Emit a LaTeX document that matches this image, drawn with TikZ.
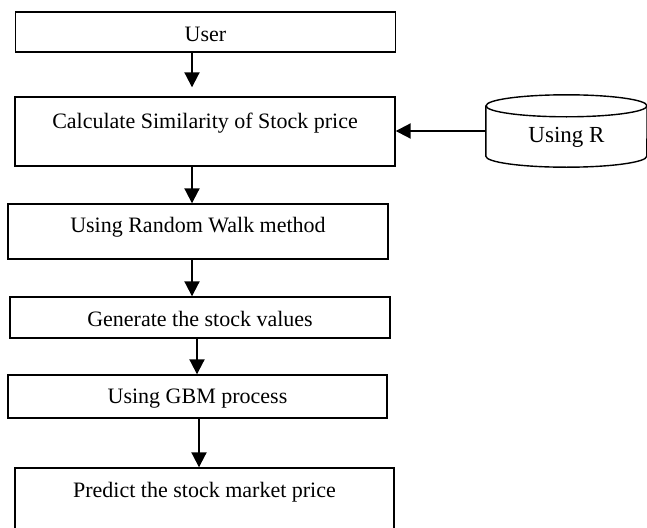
\documentclass[tikz,border=0pt]{standalone}
\usepackage{fontspec}
\setmainfont{Liberation Serif}
\usepackage{tikz}
\usetikzlibrary{arrows.meta}

\begin{document}
\begin{tikzpicture}[x=1pt,y=-1pt,
    every node/.style={font=\fontsize{22}{26}\selectfont,inner sep=0pt},
    stepbox/.style={draw,line width=1.4pt,minimum width=380pt},
    flow/.style={line width=2pt,-{Triangle[length=15pt,width=15pt]}}]
    \clip (0,0) rectangle (647,527);
    \node[stepbox,minimum height=40pt,text height=20pt] (user) at (205.5,32) {User};
    \node[stepbox,minimum height=69pt,text depth=22pt] (calc) at (205,131.5) {Calculate Similarity of Stock price};
    \node[stepbox,minimum height=55pt,text depth=12.5pt] (rand) at (198,231.5) {Using Random Walk method};
    \node[stepbox,minimum height=41pt,text height=18pt] (gen) at (200,317.5) {Generate the stock values};
    \node[stepbox,minimum width=379pt,minimum height=43pt,text height=18pt] (gbm) at (197.5,396.5) {Using GBM process};
    \node[stepbox,minimum width=379pt,minimum height=64pt,text depth=20pt] (pred) at (204.5,500) {Predict the stock market price};
    % the R database
    \node[minimum width=161pt,minimum height=50pt,text height=27pt,font=\fontsize{23}{27}\selectfont] (rdb) at (566.5,131) {Using R};
    \draw[line width=1.4pt] (rdb.north) ellipse [x radius=80.5,y radius=11];
    \draw[line width=1.4pt] (rdb.north west) -- (rdb.south west)
      arc[start angle=180,end angle=0,x radius=80.5,y radius=11] -- (rdb.north east);
    \draw[flow] ([xshift=-13.5]user.south) -- ([xshift=-13.5,yshift=9]user.south |- calc.north);
    \draw[flow] ([xshift=-13]calc.south) -- ([xshift=-13]calc.south |- rand.north);
    \draw[flow] ([xshift=-6]rand.south) -- ([xshift=-6]rand.south |- gen.north);
    \draw[flow] ([xshift=-3]gen.south) -- ([xshift=-3]gen.south |- gbm.north);
    \draw[flow] ([xshift=1.5]gbm.south) -- ([xshift=1.5]gbm.south |- pred.north);
    \draw[flow] (rdb.west) -- (rdb.west -| calc.east);
  \end{tikzpicture}
\end{document}
